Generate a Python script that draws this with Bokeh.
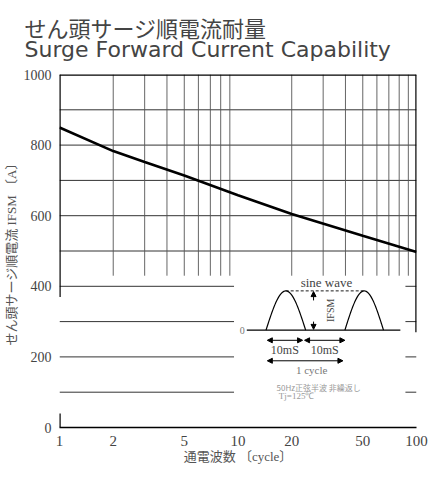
import numpy as np
from bokeh.plotting import figure
from bokeh.models import (Range1d, FixedTicker, Label, Arrow, NormalHead,
                          NumeralTickFormatter)
from bokeh.embed import file_html
from bokeh.resources import INLINE

# ---- data ----
cycles = [1, 2, 3, 5, 10, 20, 50, 100]
ifsm = [850, 783, 752, 714, 658, 605, 543, 497]

x_ticks = [1, 2, 5, 10, 20, 50, 100]
y_ticks = [0, 200, 400, 600, 800, 1000]

h_grid_full = [500, 600, 700, 800, 900]
h_grid_part = [100, 200, 300, 400]
v_grid = [2, 3, 4, 5, 6, 7, 8, 9, 20, 30, 40, 50, 60, 70, 80, 90]

title_ja = "せん頭サージ順電流耐量"
title_en = "Surge Forward Current Capability"
x_label = "通電波数 〔cycle〕"
y_label = "せん頭サージ順電流 IFSM 〔A〕"

p = figure(width=431, height=470, x_axis_type="log",
           x_range=Range1d(1, 100), y_range=Range1d(0, 1000),
           output_backend="svg", toolbar_location=None,
           min_border_left=54, min_border_right=15,
           min_border_top=74, min_border_bottom=43)
p.outline_line_color = None
p.xgrid.visible = False
p.ygrid.visible = False

# two-line title (Japanese + English)
p.title.text = title_ja + "\n" + title_en
p.title.text_font = "DejaVu Sans, Noto Sans CJK JP"
p.title.text_font_size = "22px"
p.title.text_font_style = "normal"
p.title.text_line_height = 0.8
p.title.align = "left"
p.title.offset = -35
p.title.standoff = 25

# axes
serif = "Liberation Serif"
lab_font = "Liberation Serif, Noto Sans CJK JP"
p.xaxis.ticker = FixedTicker(ticks=x_ticks)
p.xaxis.formatter = NumeralTickFormatter(format="0")
p.xaxis.major_label_text_font = serif
p.xaxis.major_label_text_font_size = "15px"
p.xaxis.major_label_standoff = 2
p.xaxis.major_tick_line_color = None
p.xaxis.minor_tick_line_color = None
p.xaxis.axis_line_color = "black"
p.xaxis.axis_line_width = 1.5
p.xaxis.axis_label = x_label
p.xaxis.axis_label_text_font = lab_font
p.xaxis.axis_label_text_font_size = "13px"
p.xaxis.axis_label_text_font_style = "normal"
p.xaxis.axis_label_text_color = "#555555"
p.xaxis.axis_label_standoff = 0

p.yaxis.ticker = FixedTicker(ticks=y_ticks)
p.yaxis.major_label_text_font = serif
p.yaxis.major_label_text_font_size = "14px"
p.yaxis.major_label_standoff = 2
p.yaxis.major_tick_line_color = None
p.yaxis.minor_tick_line_color = None
p.yaxis.axis_line_color = None
p.yaxis.axis_label = y_label
p.yaxis.axis_label_text_font = lab_font
p.yaxis.axis_label_text_font_size = "13px"
p.yaxis.axis_label_text_font_style = "normal"
p.yaxis.axis_label_text_color = "#555555"
p.yaxis.axis_label_standoff = 2

# grid lines (partial, as in the printed chart)
p.segment(x0=[1] * len(h_grid_full), x1=[100] * len(h_grid_full),
          y0=h_grid_full, y1=h_grid_full, line_color="#333333", line_width=1)
p.segment(x0=[1] * len(h_grid_part), x1=[9.5] * len(h_grid_part),
          y0=h_grid_part, y1=h_grid_part, line_color="#333333", line_width=1)
p.segment(x0=[86.7] * len(h_grid_part), x1=[100] * len(h_grid_part),
          y0=h_grid_part, y1=h_grid_part, line_color="#333333", line_width=1)
p.segment(x0=v_grid, x1=v_grid, y0=[430] * len(v_grid), y1=[1000] * len(v_grid),
          line_color="#555555", line_width=0.9)

# frame pieces
p.segment(x0=[1, 100, 1, 1], x1=[100, 100, 1, 1],
          y0=[1000, 270, 370, 0], y1=[1000, 1000, 1000, 40],
          line_color="black", line_width=2.4)

# curve
p.line(cycles, ifsm, line_color="black", line_width=2.6)

# ---- inset diagram ----
base, peak = 276, 387
t = np.linspace(0, 1, 41)
for a, b in [(1.157, 1.379), (1.599, 1.815)]:
    p.line(10 ** (a + (b - a) * t), base + (peak - base) * np.sin(np.pi * t),
           line_color="black", line_width=1.2)
p.line([11.2, 81.2], [base, base], line_color="black", line_width=1.2)
p.line([18.5, 50.9], [peak, peak], line_color="black", line_width=0.9,
       line_dash="3 2")

lab = dict(text_font=serif, text_align="center", text_baseline="middle")
p.add_layout(Label(x=10.9, y=base, text="0", text_font_size="10px",
                   text_color="#777777", text_align="right",
                   text_baseline="middle", text_font=serif))
p.add_layout(Label(x=31.3, y=410, text="sine wave", text_font_size="13px", **lab))
p.add_layout(Label(x=33.1, y=332, text="IFSM", angle=np.pi / 2,
                   text_font_size="10px", **lab))
p.add_layout(Arrow(end=NormalHead(size=5, fill_color="black"), x_start=26.5,
                   y_start=360, x_end=26.5, y_end=385, line_width=1))
p.add_layout(Arrow(end=NormalHead(size=5, fill_color="black"), x_start=26.5,
                   y_start=300, x_end=26.5, y_end=278, line_width=1))

for xs, xe in [(14.6, 23.0), (23.6, 39.7)]:
    p.add_layout(Arrow(start=NormalHead(size=5, fill_color="black"),
                       end=NormalHead(size=5, fill_color="black"),
                       x_start=xs, x_end=xe, y_start=247, y_end=247,
                       line_width=1))
p.add_layout(Label(x=18.3, y=219, text="10mS", text_font_size="12px", **lab))
p.add_layout(Label(x=30.6, y=219, text="10mS", text_font_size="12px", **lab))
p.add_layout(Arrow(start=NormalHead(size=5, fill_color="black"),
                   end=NormalHead(size=5, fill_color="black"),
                   x_start=14.6, x_end=38.7, y_start=189, y_end=189,
                   line_width=1))
p.add_layout(Label(x=25.85, y=163, text="1 cycle", text_font_size="11px",
                   text_color="#777777", **lab))
p.add_layout(Label(x=28.3, y=112, text="50Hz正弦半波 非繰返し",
                   text_font="Noto Sans CJK JP", text_font_size="8px",
                   text_color="#999999", text_align="center",
                   text_baseline="middle"))
p.add_layout(Label(x=21.3, y=89, text="Tj=125℃", text_font_size="9px",
                   text_color="#999999", **lab))

open("out.html", "w").write(file_html(p, INLINE))
